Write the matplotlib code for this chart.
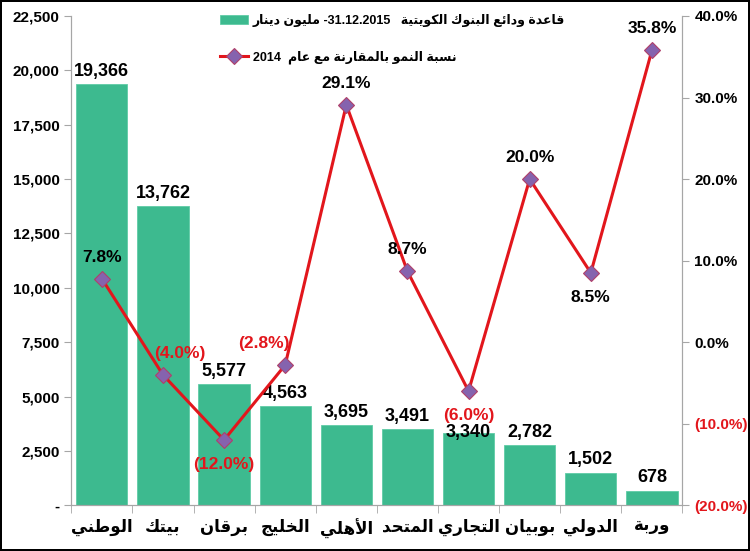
import matplotlib
matplotlib.use("Agg")
import matplotlib.pyplot as plt
import numpy as np
from matplotlib.ticker import FuncFormatter, FixedLocator

# --- data ---
banks = ["الوطني", "بيتك", "برقان", "الخليج", "الأهلي",
         "المتحد", "التجاري", "بوبيان", "الدولي", "وربة"]
deposits = [19366, 13762, 5577, 4563, 3695, 3491, 3340, 2782, 1502, 678]
growth = [7.8, -4.0, -12.0, -2.8, 29.1, 8.7, -6.0, 20.0, 8.5, 35.8]

legend_bars = ("قاعدة ودائع البنوك الكويتية", "31.12.2015", "مليون دينار")
legend_line = ("نسبة النمو بالمقارنة مع عام", "2014")

# --- tiny arabic shaper (no raqm in matplotlib) ---
# iso, fin, ini, med
FORMS = {
    'ا': ('\uFE8D', '\uFE8E', None, None),
    'أ': ('\uFE83', '\uFE84', None, None),
    'ب': ('\uFE8F', '\uFE90', '\uFE91', '\uFE92'),
    'ة': ('\uFE93', '\uFE94', None, None),
    'ت': ('\uFE95', '\uFE96', '\uFE97', '\uFE98'),
    'ج': ('\uFE9D', '\uFE9E', '\uFE9F', '\uFEA0'),
    'ح': ('\uFEA1', '\uFEA2', '\uFEA3', '\uFEA4'),
    'خ': ('\uFEA5', '\uFEA6', '\uFEA7', '\uFEA8'),
    'د': ('\uFEA9', '\uFEAA', None, None),
    'ر': ('\uFEAD', '\uFEAE', None, None),
    'س': ('\uFEB1', '\uFEB2', '\uFEB3', '\uFEB4'),
    'ط': ('\uFEC1', '\uFEC2', '\uFEC3', '\uFEC4'),
    'ع': ('\uFEC9', '\uFECA', '\uFECB', '\uFECC'),
    'ق': ('\uFED5', '\uFED6', '\uFED7', '\uFED8'),
    'ك': ('\uFED9', '\uFEDA', '\uFEDB', '\uFEDC'),
    'ل': ('\uFEDD', '\uFEDE', '\uFEDF', '\uFEE0'),
    'م': ('\uFEE1', '\uFEE2', '\uFEE3', '\uFEE4'),
    'ن': ('\uFEE5', '\uFEE6', '\uFEE7', '\uFEE8'),
    'ه': ('\uFEE9', '\uFEEA', '\uFEEB', '\uFEEC'),
    'و': ('\uFEED', '\uFEEE', None, None),
    'ي': ('\uFEF1', '\uFEF2', '\uFEF3', '\uFEF4'),
    'ئ': ('\uFE89', '\uFE8A', '\uFE8B', '\uFE8C'),
}
LAM_ALEF = {'ا': ('\uFEFB', '\uFEFC'), 'أ': ('\uFEF7', '\uFEF8')}


def ar(text):
    # returns the visual (left-to-right) order with joined letter forms
    chars = list(text)
    out = []
    prev = False
    i = 0
    while i < len(chars):
        c = chars[i]
        if c not in FORMS:
            out.append(c)
            prev = False
            i += 1
            continue
        if c == 'ل' and i + 1 < len(chars) and chars[i + 1] in LAM_ALEF:
            lig = LAM_ALEF[chars[i + 1]]
            out.append(lig[1] if prev else lig[0])
            prev = False
            i += 2
            continue
        f = FORMS[c]
        nxt = chars[i + 1] if i + 1 < len(chars) else None
        joins = f[2] is not None and nxt in FORMS
        if prev and joins:
            out.append(f[3])
        elif joins:
            out.append(f[2])
        elif prev:
            out.append(f[1])
        else:
            out.append(f[0])
        prev = joins
        i += 1
    return ''.join(out)[::-1]


plt.rcParams['font.family'] = ['Liberation Sans Narrow', 'Liberation Sans', 'DejaVu Sans']
plt.rcParams['font.weight'] = 'bold'

bar_color = '#3DBA8F'
line_color = '#E2161C'
red_txt = '#E2161C'
axis_gray = '#A6A6A6'

fig = plt.figure(figsize=(7.5, 5.51), dpi=100, linewidth=1.5, edgecolor='black')
ax = fig.add_axes([0.095, 0.083, 0.815, 0.888])
ax2 = ax.twinx()

# right-to-left legend text, laid out visually
bar_label = ar(legend_bars[2]) + " -" + legend_bars[1] + "   " + ar(legend_bars[0])
line_label = legend_line[1] + "  " + ar(legend_line[0])

x = np.arange(len(banks))
bars = ax.bar(x, deposits, width=0.84, color=bar_color, edgecolor='#5FCCA6',
              linewidth=0.6, label=bar_label)
for i, (xi, v) in enumerate(zip(x, deposits)):
    # 3,340 sits lower in the original to dodge the (6.0%) label
    dy, va = (0, 'center') if i == 6 else (3, 'bottom')
    ax.annotate(f"{v:,}", (xi, v), xytext=(0, dy), textcoords='offset points',
                ha='center', va=va, fontsize=13, fontweight='bold')

ax.set_xlim(-0.5, len(banks) - 0.5)
ax.set_ylim(0, 22500)
ax.set_yticks(np.arange(0, 22501, 2500))
ax.yaxis.set_major_formatter(FuncFormatter(lambda v, p: '-' if v == 0 else f"{int(v):,}"))
ax.set_xticks(x)
ax.set_xticklabels([ar(b) for b in banks], fontsize=12, fontweight='bold')
ax.xaxis.set_minor_locator(FixedLocator(np.arange(-0.5, len(banks), 1)))
ax.tick_params(axis='x', which='major', length=0, pad=10)
ax.tick_params(axis='x', which='minor', length=6, color=axis_gray)
ax.tick_params(axis='y', length=5, color=axis_gray, labelsize=11)

line, = ax2.plot(x, growth, color=line_color, lw=2.2, marker='D', markersize=8.5,
                 markerfacecolor='#8563AE', markeredgecolor='#B0406A', markeredgewidth=0.8,
                 label=line_label)
ax2.set_ylim(-20, 40)
ax2.set_yticks(np.arange(-20, 41, 10))
ax2.yaxis.set_major_formatter(FuncFormatter(
    lambda v, p: f"({abs(v):.1f}%)" if v < 0 else f"{v:.1f}%"))
ax2.tick_params(axis='y', length=5, color=axis_gray, labelsize=11)
for lbl, v in zip(ax2.get_yticklabels(), ax2.get_yticks()):
    if v < 0:
        lbl.set_color(red_txt)

below = {2, 6, 8}
for i, (xi, g) in enumerate(zip(x, growth)):
    txt = f"({abs(g):.1f}%)" if g < 0 else f"{g:.1f}%"
    col = red_txt if g < 0 else 'black'
    dy = -12 if i in below else 10
    dx = {1: 12, 3: -15}.get(i, 0)
    ax2.annotate(txt, (xi, g), xytext=(dx, dy), textcoords='offset points',
                 ha='center', va='top' if i in below else 'bottom',
                 fontsize=12.5, fontweight='bold', color=col)

for a in (ax, ax2):
    a.spines['top'].set_visible(False)
    for s in ('left', 'right', 'bottom'):
        a.spines[s].set_color(axis_gray)

ax2.legend([bars, line], [bar_label, line_label], loc='upper left',
           bbox_to_anchor=(0.225, 1.027), frameon=False, markerfirst=True,
           handlelength=2.2, handletextpad=0.4, labelspacing=1.85,
           prop={'weight': 'bold', 'size': 9})

fig.savefig('out.png', dpi=100, edgecolor=fig.get_edgecolor())
